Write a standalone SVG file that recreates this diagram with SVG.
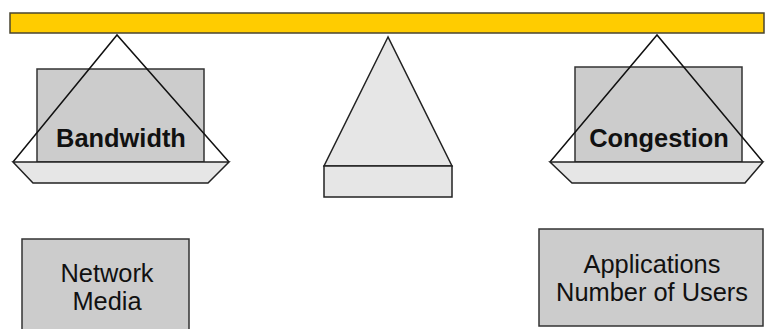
<svg xmlns="http://www.w3.org/2000/svg" width="765" height="329" viewBox="0 0 765 329">
<style>
.box{fill:#cccccc;stroke:#333333;stroke-width:1.5}
.pan{fill:#e6e6e6;stroke:#222222;stroke-width:1.5;stroke-linejoin:miter}
.rope{fill:none;stroke:#111111;stroke-width:1.5}
.lbl{font-family:"Liberation Sans",Arial,sans-serif;font-size:25.4px;fill:#111111;text-anchor:middle}
.bold{font-weight:bold}
</style>
<rect width="765" height="329" fill="#ffffff"/>
<g id="beam">
<rect x="10" y="13" width="754" height="20" fill="#ffcc00" stroke="#4a4530" stroke-width="1.5"/>
</g>
<g id="pivot">
<polygon class="pan" points="388,37 324,166 452,166"/>
<rect class="pan" x="324" y="166" width="128" height="31"/>
</g>
<g id="left-pan">
<rect class="box" x="37" y="69" width="167" height="93"/>
<text class="lbl bold" x="121" y="147">Bandwidth</text>
<polyline class="rope" points="13,162 117,35 229,162"/>
<polygon class="pan" points="13,162 229,162 208,183 33,183"/>
</g>
<g id="right-pan">
<rect class="box" x="575" y="67" width="167" height="95"/>
<text class="lbl bold" x="659" y="147">Congestion</text>
<polyline class="rope" points="550,162 657,35 763,162"/>
<polygon class="pan" points="550,162 763,162 745,183 572,183"/>
</g>
<g id="network-media">
<rect class="box" x="22" y="239" width="167" height="95"/>
<text class="lbl" x="107" y="282">Network</text>
<text class="lbl" x="107" y="310">Media</text>
</g>
<g id="applications">
<rect class="box" x="539" y="229" width="224" height="97"/>
<text class="lbl" x="652" y="273">Applications</text>
<text class="lbl" x="652" y="301">Number of Users</text>
</g>
<g id="connectors"></g>
</svg>
